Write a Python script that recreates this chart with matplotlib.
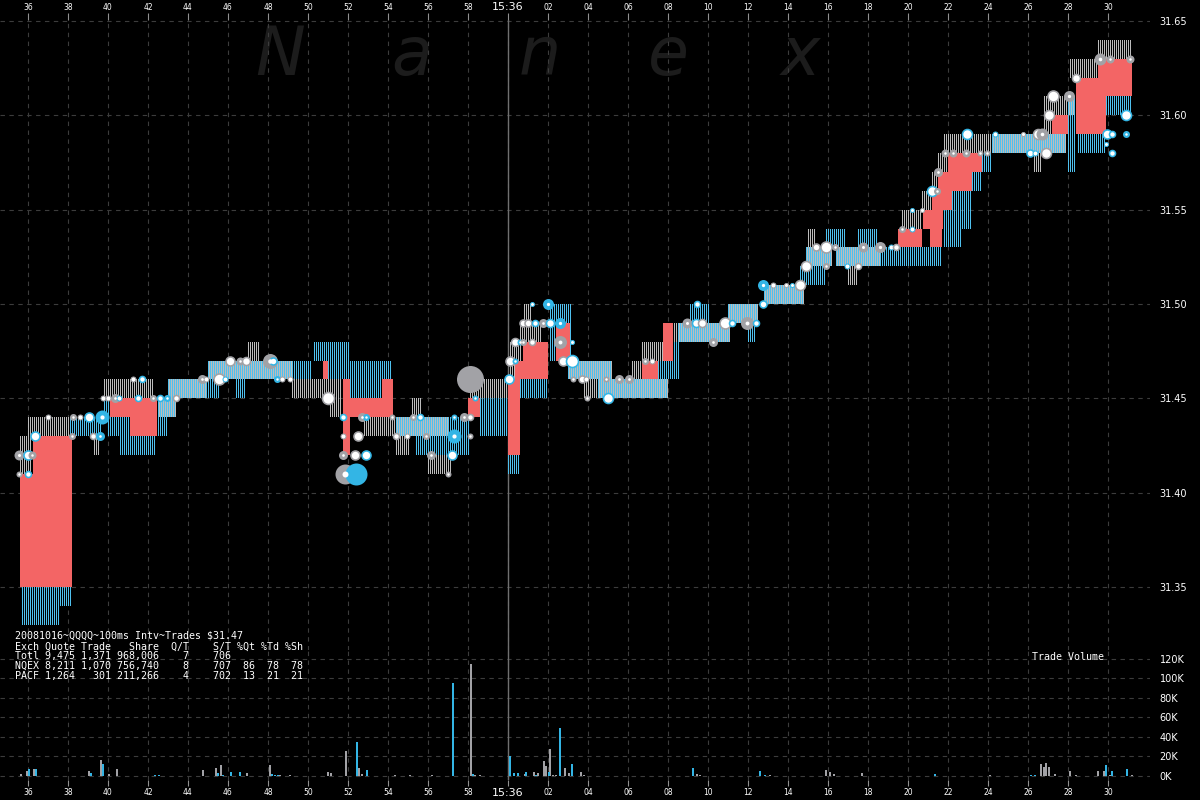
import numpy as np
import matplotlib
matplotlib.use('Agg')
import matplotlib.pyplot as plt

# ---------------- data (time = seconds after 15:35:00) ----------------
# NQEX quote bands (t_start, t_end, low, high)
nqex_bands = [
    (35.60, 36.25, 31.41, 31.43), (36.00, 38.10, 31.43, 31.44), (39.25, 39.60, 31.42, 31.43),
    (39.75, 42.35, 31.45, 31.46), (42.45, 43.45, 31.44, 31.45), (42.95, 44.95, 31.45, 31.46),
    (44.95, 49.25, 31.46, 31.47), (46.95, 47.60, 31.47, 31.48), (49.20, 51.75, 31.45, 31.46),
    (51.10, 51.75, 31.44, 31.45), (52.75, 57.00, 31.43, 31.44), (54.35, 55.10, 31.42, 31.43),
    (55.20, 55.70, 31.44, 31.45), (55.95, 57.20, 31.41, 31.42), (58.10, 60.00, 31.45, 31.46),
    (58.10, 58.60, 31.44, 31.45), (60.10, 60.75, 31.46, 31.48), (60.60, 61.75, 31.48, 31.49),
    (60.75, 61.25, 31.49, 31.50), (63.00, 65.20, 31.46, 31.47), (63.75, 68.00, 31.45, 31.46),
    (66.20, 66.70, 31.46, 31.47), (66.70, 67.85, 31.47, 31.48), (67.75, 71.10, 31.48, 31.49),
    (70.95, 72.50, 31.49, 31.50), (72.75, 74.85, 31.50, 31.51), (74.85, 76.20, 31.52, 31.53),
    (75.00, 75.45, 31.53, 31.54), (76.35, 78.60, 31.52, 31.53), (76.95, 77.50, 31.51, 31.52),
    (79.70, 80.75, 31.54, 31.55), (80.70, 81.20, 31.55, 31.56), (81.20, 81.50, 31.56, 31.57),
    (81.50, 82.00, 31.57, 31.58), (81.75, 87.95, 31.58, 31.59), (86.25, 86.70, 31.57, 31.58),
    (86.75, 87.20, 31.59, 31.61), (87.20, 88.35, 31.60, 31.61), (88.10, 89.50, 31.62, 31.63),
    (89.50, 91.20, 31.63, 31.64),
]
# PACF quote bands
pacf_bands = [
    (35.65, 38.20, 31.34, 31.35), (35.65, 37.60, 31.33, 31.34), (38.10, 39.75, 31.43, 31.44),
    (39.95, 41.10, 31.43, 31.44), (39.75, 40.10, 31.44, 31.45), (40.60, 42.45, 31.42, 31.43),
    (42.45, 43.45, 31.44, 31.45), (42.45, 43.00, 31.43, 31.44), (42.95, 45.60, 31.45, 31.46),
    (44.95, 50.25, 31.46, 31.47), (46.35, 46.95, 31.45, 31.46), (50.25, 52.10, 31.47, 31.48),
    (51.00, 54.25, 31.46, 31.47), (52.10, 53.70, 31.45, 31.46), (54.35, 57.00, 31.43, 31.44),
    (55.35, 57.00, 31.42, 31.43), (57.00, 58.10, 31.42, 31.44), (58.60, 60.00, 31.43, 31.45),
    (60.00, 60.60, 31.41, 31.42), (60.60, 62.00, 31.45, 31.46), (62.10, 63.20, 31.47, 31.50),
    (63.00, 65.20, 31.46, 31.47), (64.50, 68.00, 31.45, 31.46), (67.50, 68.60, 31.46, 31.47),
    (68.25, 68.60, 31.47, 31.48), (68.50, 71.10, 31.48, 31.49), (69.10, 70.10, 31.49, 31.50),
    (70.95, 72.50, 31.49, 31.50), (72.00, 72.45, 31.48, 31.49), (72.75, 74.85, 31.50, 31.51),
    (74.60, 75.95, 31.51, 31.52), (74.85, 76.20, 31.52, 31.53), (75.85, 76.95, 31.53, 31.54),
    (76.35, 81.75, 31.52, 31.53), (77.45, 78.50, 31.53, 31.54), (81.75, 82.70, 31.53, 31.55),
    (82.20, 83.20, 31.54, 31.56), (83.20, 83.75, 31.56, 31.57), (83.70, 84.25, 31.57, 31.58),
    (84.20, 87.95, 31.58, 31.59), (87.95, 88.45, 31.57, 31.61), (88.45, 89.95, 31.58, 31.59),
    (89.90, 91.25, 31.60, 31.61),
]
# crossed / wide spread regions
red_bands = [
    (35.60, 36.25, 31.35, 31.41), (36.25, 38.20, 31.35, 31.43), (40.10, 41.10, 31.44, 31.45),
    (41.10, 42.45, 31.43, 31.45), (50.75, 51.00, 31.46, 31.47), (51.75, 52.10, 31.42, 31.46),
    (52.10, 54.25, 31.44, 31.45), (53.70, 54.25, 31.45, 31.46), (58.00, 58.60, 31.44, 31.45),
    (60.00, 60.60, 31.42, 31.46), (60.35, 62.00, 31.46, 31.47), (60.75, 62.00, 31.47, 31.48),
    (62.40, 63.10, 31.47, 31.49), (66.70, 67.50, 31.46, 31.47), (67.75, 68.25, 31.47, 31.49),
    (79.50, 80.70, 31.53, 31.54), (80.75, 81.75, 31.54, 31.55), (81.10, 81.70, 31.53, 31.54),
    (81.20, 82.20, 31.55, 31.56), (81.50, 83.20, 31.56, 31.57), (82.00, 83.70, 31.57, 31.58),
    (87.20, 88.00, 31.59, 31.60), (88.40, 89.90, 31.59, 31.62), (89.50, 91.20, 31.61, 31.63),
]
# trades: (time, price, marker diameter px, exchange, style)  style f=filled, w=white
trades = [
    (35.55, 31.42, 10, 'N', 'f'), (36.00, 31.42, 10, 'P', 'w'), (36.20, 31.42, 8, 'N', 'f'),
    (35.55, 31.41, 6, 'N', 'f'), (36.00, 31.41, 7, 'P', 'w'), (36.35, 31.43, 10, 'P', 'w'),
    (38.20, 31.43, 7, 'N', 'f'), (39.25, 31.43, 7, 'N', 'w'), (39.60, 31.43, 9, 'P', 'f'),
    (37.00, 31.44, 6, 'N', 'w'), (38.25, 31.44, 7, 'N', 'f'), (38.60, 31.44, 6, 'N', 'w'),
    (39.05, 31.44, 10, 'P', 'w'), (39.70, 31.44, 14, 'P', 'f'), (39.75, 31.45, 6, 'N', 'w'),
    (40.00, 31.45, 6, 'N', 'w'), (40.35, 31.45, 9, 'N', 'f'), (40.55, 31.45, 6, 'P', 'w'),
    (41.50, 31.45, 7, 'P', 'w'), (42.25, 31.45, 7, 'N', 'f'), (42.60, 31.45, 7, 'P', 'w'),
    (42.95, 31.45, 7, 'P', 'f'), (43.40, 31.45, 7, 'N', 'w'), (41.25, 31.46, 6, 'N', 'w'),
    (41.70, 31.46, 7, 'P', 'w'), (44.70, 31.46, 9, 'N', 'f'), (44.90, 31.46, 6, 'N', 'w'),
    (45.55, 31.46, 12, 'N', 'w'), (45.85, 31.46, 6, 'P', 'w'), (46.10, 31.47, 10, 'N', 'w'),
    (46.60, 31.47, 8, 'N', 'f'), (46.90, 31.47, 9, 'N', 'w'), (48.10, 31.47, 15, 'N', 'f'),
    (48.25, 31.47, 8, 'P', 'w'), (48.45, 31.46, 7, 'P', 'f'), (48.70, 31.46, 6, 'N', 'w'),
    (49.10, 31.46, 6, 'N', 'w'), (51.00, 31.45, 13, 'N', 'w'), (51.75, 31.44, 7, 'P', 'w'),
    (52.70, 31.44, 9, 'N', 'f'), (52.90, 31.44, 7, 'P', 'f'), (54.20, 31.44, 6, 'N', 'f'),
    (51.75, 31.43, 6, 'N', 'w'), (52.50, 31.43, 10, 'N', 'w'), (51.75, 31.42, 9, 'N', 'f'),
    (52.35, 31.42, 10, 'N', 'w'), (52.90, 31.42, 10, 'P', 'w'), (51.85, 31.41, 20, 'N', 'f'),
    (52.40, 31.41, 22, 'P', 'f'), (54.40, 31.43, 7, 'N', 'w'), (54.95, 31.43, 6, 'N', 'w'),
    (55.25, 31.44, 7, 'N', 'f'), (55.60, 31.44, 7, 'P', 'w'), (55.90, 31.43, 7, 'N', 'f'),
    (56.15, 31.42, 9, 'N', 'f'), (57.00, 31.41, 6, 'N', 'f'), (57.30, 31.44, 6, 'P', 'f'),
    (57.30, 31.43, 14, 'P', 'f'), (57.20, 31.42, 10, 'P', 'w'), (57.80, 31.44, 9, 'N', 'f'),
    (58.10, 31.44, 7, 'N', 'w'), (58.10, 31.43, 6, 'N', 'f'), (58.10, 31.46, 27, 'N', 'f'),
    (58.35, 31.45, 6, 'P', 'f'), (60.10, 31.47, 10, 'N', 'w'), (60.35, 31.47, 6, 'P', 'f'),
    (60.05, 31.46, 10, 'P', 'w'), (60.35, 31.48, 9, 'N', 'w'), (60.60, 31.48, 6, 'P', 'f'),
    (60.75, 31.48, 7, 'N', 'f'), (61.20, 31.48, 7, 'N', 'w'), (60.75, 31.49, 8, 'N', 'w'),
    (61.00, 31.49, 8, 'N', 'w'), (61.35, 31.49, 7, 'P', 'w'), (61.75, 31.49, 9, 'N', 'f'),
    (62.10, 31.49, 9, 'P', 'w'), (62.60, 31.49, 11, 'P', 'f'), (61.20, 31.50, 5, 'P', 'w'),
    (62.00, 31.50, 11, 'P', 'f'), (62.60, 31.48, 13, 'N', 'f'), (63.20, 31.48, 5, 'P', 'w'),
    (62.75, 31.47, 10, 'N', 'w'), (63.20, 31.47, 13, 'P', 'w'), (63.25, 31.46, 6, 'N', 'f'),
    (63.70, 31.46, 8, 'N', 'w'), (63.90, 31.46, 6, 'N', 'w'), (64.90, 31.46, 6, 'N', 'f'),
    (65.55, 31.46, 9, 'N', 'f'), (66.05, 31.46, 9, 'N', 'f'), (63.95, 31.45, 6, 'N', 'f'),
    (65.00, 31.45, 11, 'P', 'w'), (66.85, 31.47, 7, 'N', 'f'), (67.20, 31.47, 6, 'N', 'w'),
    (68.95, 31.49, 10, 'N', 'f'), (69.40, 31.49, 9, 'P', 'w'), (69.70, 31.49, 9, 'N', 'w'),
    (70.25, 31.48, 9, 'N', 'f'), (69.45, 31.50, 7, 'P', 'w'), (70.85, 31.49, 12, 'N', 'w'),
    (71.20, 31.49, 7, 'P', 'w'), (71.95, 31.49, 13, 'N', 'f'), (72.40, 31.49, 7, 'P', 'w'),
    (72.75, 31.50, 8, 'P', 'w'), (72.75, 31.51, 11, 'P', 'f'), (73.25, 31.51, 6, 'N', 'w'),
    (73.90, 31.51, 5, 'N', 'w'), (74.20, 31.51, 5, 'P', 'w'), (74.60, 31.51, 11, 'N', 'w'),
    (74.90, 31.52, 11, 'N', 'w'), (75.90, 31.52, 7, 'N', 'f'), (76.95, 31.52, 6, 'P', 'w'),
    (77.50, 31.52, 7, 'N', 'w'), (75.40, 31.53, 8, 'N', 'w'), (75.90, 31.53, 12, 'N', 'w'),
    (76.35, 31.53, 7, 'N', 'f'), (77.75, 31.53, 10, 'N', 'f'), (78.60, 31.53, 11, 'N', 'f'),
    (79.15, 31.53, 6, 'P', 'w'), (79.40, 31.53, 7, 'N', 'w'), (79.70, 31.54, 7, 'N', 'f'),
    (80.20, 31.54, 6, 'P', 'w'), (80.20, 31.55, 5, 'P', 'w'), (80.70, 31.55, 5, 'N', 'w'),
    (81.20, 31.56, 11, 'P', 'w'), (81.45, 31.56, 7, 'N', 'f'), (81.50, 31.57, 9, 'N', 'f'),
    (81.85, 31.58, 8, 'N', 'f'), (82.25, 31.58, 8, 'N', 'f'), (82.90, 31.58, 8, 'N', 'f'),
    (83.60, 31.58, 6, 'N', 'f'), (83.95, 31.58, 6, 'N', 'f'), (82.95, 31.59, 11, 'P', 'w'),
    (84.35, 31.59, 6, 'P', 'w'), (85.75, 31.59, 5, 'N', 'w'), (86.50, 31.59, 11, 'N', 'w'),
    (86.70, 31.59, 12, 'N', 'f'), (86.10, 31.58, 8, 'P', 'w'), (86.35, 31.58, 6, 'P', 'w'),
    (86.90, 31.58, 11, 'N', 'w'), (87.05, 31.60, 11, 'N', 'w'), (87.25, 31.61, 12, 'N', 'w'),
    (88.05, 31.61, 11, 'N', 'f'), (88.40, 31.62, 9, 'N', 'w'), (89.60, 31.63, 12, 'N', 'f'),
    (90.10, 31.63, 8, 'N', 'f'), (91.10, 31.63, 8, 'N', 'f'), (90.90, 31.60, 11, 'P', 'w'),
    (89.95, 31.59, 10, 'P', 'w'), (90.20, 31.59, 7, 'P', 'w'), (90.90, 31.59, 7, 'P', 'f'),
    (89.90, 31.585, 5, 'P', 'w'), (90.20, 31.58, 7, 'P', 'w'),
]
# trade volume per 100ms interval (time, thousands of shares)
nqex_vol_t = [35.65, 35.94, 36.32, 39.04, 39.63, 40.05, 40.44, 44.74, 45.41, 45.65, 46.94, 48.09,
              48.60, 49.10, 51.02, 51.15, 51.92, 52.55, 52.70, 54.35, 55.10, 55.60, 56.20, 58.14,
              58.35, 58.60, 60.85, 61.30, 61.50, 61.81, 61.90, 62.12, 62.25, 62.40, 62.85, 63.05,
              63.65, 63.80, 69.45, 69.60, 73.10, 75.90, 76.10, 76.30, 77.70, 84.10, 85.85, 86.65,
              86.80, 86.90, 87.05, 87.35, 88.10, 88.40, 89.50, 89.80, 90.10, 91.20]
nqex_vol_k = [2.4, 4.8, 7.5, 5.5, 16.8, 2.4, 7.5, 6.5, 8.2, 11, 3.4, 11,
              0.8, 0.6, 4.4, 3.4, 25.6, 8.2, 2, 0.8, 1, 0.5, 0.8, 115,
              1, 0.8, 2.5, 4.4, 3.4, 15, 10, 28, 1, 1, 8.2, 3.4,
              4.4, 1, 2, 1, 1, 6, 4, 2, 3, 1.5, 0.5, 12.3,
              9, 13.5, 9, 2, 5, 1.5, 5, 5, 1, 1]
pacf_vol_t = [36.04, 36.42, 36.90, 37.10, 39.14, 39.73, 40.60, 41.35, 41.60, 42.35, 42.55, 45.50,
              45.74, 46.14, 46.62, 48.19, 48.35, 48.50, 52.44, 52.93, 57.25, 58.23, 60.10, 60.30,
              60.50, 60.90, 61.40, 62.05, 62.60, 63.20, 69.25, 72.60, 72.85, 81.35, 86.15, 86.35,
              89.90, 90.20, 90.95]
pacf_vol_k = [7.5, 7.5, 0.5, 0.5, 2.7, 12, 0.5, 0.5, 0.5, 1.4, 1.4, 3.4,
              1, 4.4, 3.8, 2, 1.4, 1.4, 34.9, 6.5, 95, 2.4, 21, 3.4,
              3.4, 4.4, 1, 4.4, 49, 12.6, 8, 5, 1.5, 2, 1.5, 1.5,
              11, 5, 7]

time_ticks = list(range(36, 92, 2))
time_labels = [('15:36' if t == 60 else '%02d' % (t % 60)) for t in time_ticks]
price_ticks = [31.35, 31.40, 31.45, 31.50, 31.55, 31.60, 31.65]
vol_ticks = [0, 20, 40, 60, 80, 100, 120]

legend_lines = [
    "20081016~QQQQ~100ms Intv~Trades $31.47",
    "Exch Quote Trade   Share  Q/T    S/T %Qt %Td %Sh",
    "Totl 9,475 1,371 968,006    7    706",
    "NQEX 8,211 1,070 756,740    8    707  86  78  78",
    "PACF 1,264   301 211,266    4    702  13  21  21",
]

# ---------------- styling ----------------
BG = 'black'
GRAY_DOT = '#a2a2a6'
GRAY_LINE = '#bcbcbc'
CYAN_DOT = '#33b5e5'
CYAN_LINE = '#4fc0ee'
RED = '#f36565'
GRID = '#3c3c3c'
W, H = 1200, 800

fig = plt.figure(figsize=(12, 8), dpi=100, facecolor=BG)
ax = fig.add_axes([0, 1 - 650 / H, 1150 / W, 630 / H], facecolor=BG)
axv = fig.add_axes([0, 20 / H, 1150 / W, 130 / H], facecolor=BG, sharex=ax)

ax.set_xlim(34.6, 92.1)
ax.set_ylim(31.65 - 629 / 1886.7, 31.65 + 1 / 1886.7)
axv.set_ylim(-4.1, 129.2)

for a in (ax, axv):
    for s in a.spines.values():
        s.set_visible(False)
    a.grid(True, color=GRID, linestyle=(0, (4, 4)), linewidth=0.8)
    a.set_axisbelow(True)
    a.axvline(60, color='#707070', lw=1.0, zorder=1)

ax.set_xticks(time_ticks)
ax.set_xticklabels(time_labels)
ax.xaxis.tick_top()
ax.tick_params(axis='x', colors='#909090', labelcolor='white', length=5, width=0.8,
               labelsize=5.5, pad=1, top=True, bottom=False, labelbottom=False)
axv.tick_params(axis='x', colors='#909090', labelcolor='white', length=4, width=0.8,
                labelsize=5.5, pad=2, top=False, bottom=True, labeltop=False)
for lab_ax in (ax.get_xticklabels(), axv.get_xticklabels()):
    for lab in lab_ax:
        if lab.get_text() == '15:36':
            lab.set_fontsize(8)

ax.set_yticks(price_ticks)
ax.set_yticklabels(['%.2f' % p for p in price_ticks])
ax.yaxis.tick_right()
ax.tick_params(axis='y', length=0, labelcolor='white', labelsize=7, pad=7)
axv.set_yticks(vol_ticks)
axv.set_yticklabels(['%dK' % v for v in vol_ticks])
axv.yaxis.tick_right()
axv.tick_params(axis='y', length=0, labelcolor='white', labelsize=7, pad=7)

# watermark
for ch, xp in zip('Nanex', [280, 412, 540, 668, 800]):
    ax.text(xp / W, 1 - 75 / H, ch, transform=fig.transFigure, fontsize=48, style='italic',
            color='#1c1c1c', ha='center', va='baseline', zorder=0.5, family='DejaVu Sans')

# quote hatching: one thin bar per 100ms interval
def hatch(bands, color, offset, z):
    for t0, t1, lo, hi in bands:
        ts = np.round(np.arange(np.ceil(t0 * 10 - 1e-6), np.floor(t1 * 10 + 1e-6)) / 10, 2) + offset
        if len(ts):
            ax.bar(ts, hi - lo, width=0.05, bottom=lo, align='edge', color=color,
                   linewidth=0, antialiased=True, zorder=z)

# where both exchanges quote the same range, NQEX lines fill the gaps between PACF lines
overlap = []
for g0, g1, glo, ghi in nqex_bands:
    for c0, c1, clo, chi in pacf_bands:
        o0, o1, olo, ohi = max(g0, c0), min(g1, c1), max(glo, clo), min(ghi, chi)
        if o1 - o0 > 0.05 and ohi - olo > 0.001:
            overlap.append((o0, o1, olo, ohi))

hatch(nqex_bands, GRAY_LINE, 0.0, 2)
hatch(pacf_bands, CYAN_LINE, 0.0, 2.1)
hatch(overlap, GRAY_LINE, 0.05, 2.2)

for t0, t1, lo, hi in red_bands:
    ax.bar(t0, hi - lo, width=t1 - t0, bottom=lo, align='edge', color=RED, linewidth=0, zorder=3)

# trades
pt = 0.72
for t, p, d, ex, st in trades:
    col = GRAY_DOT if ex == 'N' else CYAN_DOT
    if st == 'f':
        ax.scatter([t], [p], s=(d * pt) ** 2, color=col, linewidths=0, zorder=5)
        if d < 21:
            ax.scatter([t], [p], s=(max(2.5, d * 0.3) * pt) ** 2, color='white', linewidths=0, zorder=5.1)
    else:
        ax.scatter([t], [p], s=((d - 1) * pt) ** 2, facecolor='white', edgecolor=col,
                   linewidths=1.6 * pt if d > 6 else 1.0 * pt, zorder=5)

# volume
axv.bar(nqex_vol_t, nqex_vol_k, width=0.1, color=GRAY_DOT, linewidth=0, zorder=3)
axv.bar(pacf_vol_t, pacf_vol_k, width=0.1, color=CYAN_DOT, linewidth=0, zorder=3.1)

# texts
ys = [636, 646.5, 656.5, 666, 676]
for line, yp in zip(legend_lines, ys):
    fig.text(15 / W, 1 - yp / H, line, family='DejaVu Sans Mono', fontsize=7.2,
             color='white', va='center', ha='left')
fig.text(1032 / W, 1 - 657 / H, 'Trade Volume', family='DejaVu Sans Mono', fontsize=7.2,
         color='white', va='center', ha='left')
ax.scatter([7.3 / W], [1 - 665.7 / H], s=(12 * pt) ** 2, color=GRAY_DOT, transform=fig.transFigure,
           clip_on=False, zorder=6, linewidths=0)
ax.scatter([7.3 / W], [1 - 676.7 / H], s=(5 * pt) ** 2, color=CYAN_DOT, transform=fig.transFigure,
           clip_on=False, zorder=6, linewidths=0)

fig.savefig('out.png', dpi=100, facecolor=BG)
